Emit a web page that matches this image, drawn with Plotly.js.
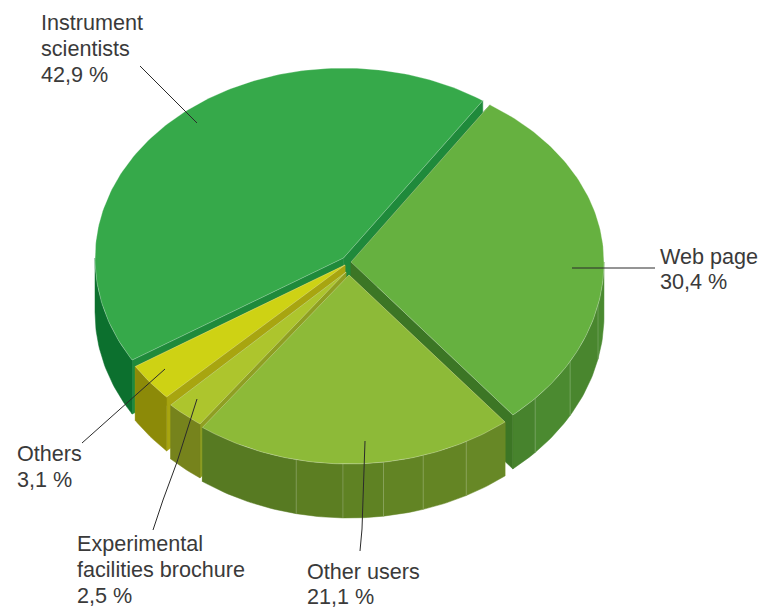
<!DOCTYPE html>
<html>
<head>
<meta charset="utf-8">
<script src="https://cdn.plot.ly/plotly-3.0.1.min.js"></script>
<style>html,body{margin:0;padding:0;background:#fff}#chart{width:762px;height:607px}</style>
</head>
<body>
<div id="chart"></div>
<script>
// Data (clockwise from the Web page slice)
const categories = ["Web page", "Other users", "Experimental facilities brochure", "Others", "Instrument scientists"];
const shares = [30.4, 21.1, 2.5, 3.1, 42.9];
const startAngle = 33.5;

// Colours of each slice
const topColors = ["#66b140", "#8dba38", "#adc52d", "#ced214", "#36a94a"];
const cutColors = ["#3c7625", "#8f9f22", "#8f9f22", "#a8a510", "#1f8a3b"];
const wallColors = [
  ["#4a8a30", "#49862e", "#4b8a30", "#47832d"],
  ["#678826", "#648524", "#628424", "#5f8223", "#5c7e22", "#577a22"],
  ["#76831c"],
  ["#8c8a08"],
  ["#0c702e"]
];
// Seams of the drum wall, degrees clockwise from top
const wallSeams = [
  [90, 102.5, 120, 133.3],
  [151.8, 162.6, 172, 181.4, 192.3],
  [],
  [],
  []
];

// Projection of each exploded slice (pseudo-3D drum)
const apexX = [351, 349, 346, 345, 343.5];
const apexY = [262, 275, 272, 265, 258];
const radX = [253, 248, 248, 248, 248.5];
const radFar = [188, 188, 188, 190, 190];
const radNear = [199, 189, 188, 190, 194];
const angleShift = [-0.2, -1.9, -2.84, -1.9, -0.8];
const angleScale = [0.977, 0.99, 0.99, 1.05, 1.009];
const depth = 54;
const drawOrder = [4, 0, 3, 2, 1];

// Label lines and leader lines
const labelLines = [
  ["Instrument", 41, 22], ["scientists", 41, 48], ["42,9 %", 41, 74],
  ["Web page", 660, 256], ["30,4 %", 660, 281],
  ["Others", 17, 453], ["3,1 %", 17, 479],
  ["Experimental", 77, 543], ["facilities brochure", 77, 569], ["2,5 %", 77, 595],
  ["Other users", 307, 571], ["21,1 %", 307, 596]
];
const leaderX = [[140, 197], [572, 655], [165, 82], [197, 177, 163, 153], [365, 362, 360]];
const leaderY = [[66, 123], [268, 268], [369, 443], [399, 462, 500, 530], [441, 529, 551]];

const rad = d => d * Math.PI / 180;
function point(i, t) {
  const c = Math.cos(rad(t));
  return [apexX[i] + radX[i] * Math.sin(rad(t)), apexY[i] - (c >= 0 ? radFar[i] : radNear[i]) * c];
}
function arc(i, a, b) {
  const pts = [], n = Math.max(2, Math.ceil(Math.abs(b - a)));
  for (let k = 0; k <= n; k++) pts.push(point(i, a + (b - a) * k / n));
  return pts;
}
function polygon(pts, fill, line) {
  return {
    type: "scatter", mode: "lines", hoverinfo: "skip", showlegend: false,
    x: pts.map(p => p[0]).concat(pts[0][0]),
    y: pts.map(p => p[1]).concat(pts[0][1]),
    fill: "toself", fillcolor: fill,
    line: line || {color: fill, width: 0.5}
  };
}
const down = p => [p[0], p[1] + depth];

// angular extents from the values
const starts = [], ends = [];
let cum = startAngle;
shares.forEach((s, i) => {
  const span = s * 3.6;
  const t0 = cum + angleShift[i];
  starts.push(t0);
  ends.push(t0 + span * angleScale[i]);
  cum += span;
});

const traces = [];
drawOrder.forEach(i => {
  const t0 = starts[i], t1 = ends[i], apex = [apexX[i], apexY[i]];
  // cut faces
  [t0, t1].forEach(t => {
    const c = point(i, t);
    traces.push(polygon([apex, c, down(c), down(apex)], cutColors[i]));
  });
  // drum wall, only the side that faces the viewer
  const lo = Math.max(t0, 90), hi = Math.min(t1, 270);
  const edges = [lo].concat(wallSeams[i].filter(s => s > lo && s < hi), [hi]);
  for (let k = 0; k < edges.length - 1; k++) {
    const top = arc(i, edges[k], edges[k + 1]);
    traces.push(polygon(top.concat(top.slice().reverse().map(down)), wallColors[i][k % wallColors[i].length]));
  }
  // thin light seams on the wall
  wallSeams[i].filter(s => s > lo && s < hi).forEach(s => {
    const p = point(i, s), q = down(p);
    traces.push({type: "scatter", mode: "lines", hoverinfo: "skip", showlegend: false,
      x: [p[0], q[0]], y: [p[1], q[1]], line: {color: "rgba(255,255,255,0.2)", width: 1}});
  });
  // top face
  traces.push(polygon([apex].concat(arc(i, t0, t1)), topColors[i], {color: "rgba(255,255,255,0.35)", width: 0.8}));
});

leaderX.forEach((xs, i) => traces.push({
  type: "scatter", mode: "lines", hoverinfo: "skip", showlegend: false,
  x: xs, y: leaderY[i], line: {color: "#2b2b2b", width: 1}
}));

const annotations = labelLines.map(l => ({
  text: l[0], x: l[1], y: l[2], xref: "x", yref: "y",
  xanchor: "left", yanchor: "middle", showarrow: false, borderpad: 0, xshift: -1,
  font: {family: "Liberation Sans, Arial, sans-serif", size: 21.6, color: "#3a3a3a"}
}));

const hidden = {visible: false, fixedrange: true};
Plotly.newPlot("chart", traces, {
  width: 762, height: 607,
  margin: {l: 0, r: 0, t: 0, b: 0},
  paper_bgcolor: "#ffffff", plot_bgcolor: "#ffffff",
  showlegend: false,
  xaxis: Object.assign({range: [0, 762]}, hidden),
  yaxis: Object.assign({range: [607, 0]}, hidden),
  annotations: annotations
}, {displayModeBar: false, staticPlot: true});
</script>
</body>
</html>
